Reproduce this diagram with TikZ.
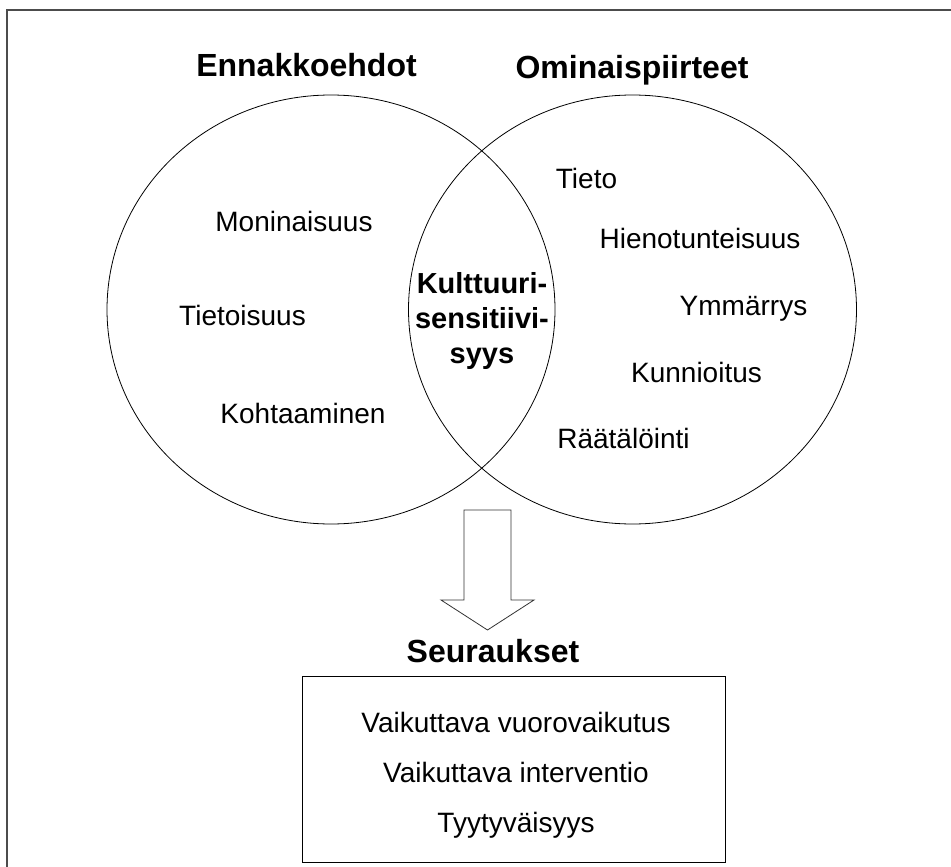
\documentclass[tikz,border=0pt]{standalone}
\usepackage{fontspec}
\setmainfont{Liberation Sans}
\usetikzlibrary{shapes.geometric}
\usetikzlibrary{calc}

\tikzset{
  heading/.style={font=\fontsize{32}{38}\selectfont\bfseries, anchor=base},
  item/.style={font=\fontsize{28}{34}\selectfont, anchor=base},
  core/.style={font=\fontsize{29}{35}\selectfont\bfseries, align=center},
  setshape/.style={draw, ellipse, line width=0.8pt, minimum width=448pt, minimum height=429pt, inner sep=0pt},
  resultbox/.style={draw, line width=0.9pt, minimum width=423pt, minimum height=186pt, inner sep=0pt},
}

\begin{document}
\begin{tikzpicture}[x=1pt,y=-1pt]

        \useasboundingbox (0,0) rectangle (951,867);

        % Frame
        \draw[line width=1.2pt, black!70] (951,10) -- (7,10) -- (7,867);

        % Venn
        \node[setshape] (ennakko) at (331,309.5) {};
        \node[setshape] (omin) at (632.5,309.5) {};

        \node[heading] (ennakkoT) at (306.5,77) {Ennakkoehdot};
        \node[heading] (ominT) at (632,78) {Ominaispiirteet};

        \node[core] (kult) at (482,320.5) {Kulttuuri-\\sensitiivi-\\syys};

        % Left items
        \node[item] (monin) at (294,231) {Moninaisuus};
        \node[item] (tietois) at (242.5,325) {Tietoisuus};
        \node[item] (kohtaa) at (303,423) {Kohtaaminen};

        % Right items
        \node[item] (tieto) at (586.5,188) {Tieto};
        \node[item] (hieno) at (700,248) {Hienotunteisuus};
        \node[item] (ymm) at (743.5,315) {Ymmärrys};
        \node[item] (kunn) at (696.5,382) {Kunnioitus};
        \node[item] (raat) at (623.5,448) {Räätälöinti};

        % Block arrow
        \coordinate (tip) at (487.5,630);
        \draw[line width=0.8pt, black!80]
          ($(tip)+(-23.5,-120)$) -- ($(tip)+(23.5,-120)$) -- ($(tip)+(23.5,-30)$)
          -- ($(tip)+(46.5,-30)$) -- (tip) -- ($(tip)+(-46.5,-30)$)
          -- ($(tip)+(-23.5,-30)$) -- cycle;

        % Results
        \node[heading] (seurT) at (493,662) {Seuraukset};
        \node[resultbox] (seur) at (513.5,769) {};
        \foreach \txt/\y [count=\i] in {Vaikuttava vuorovaikutus/732, Vaikuttava interventio/782, Tyytyväisyys/832}
        {
          \node[item] (res\i) at (516,\y) {\txt};
        }

    \end{tikzpicture}
\end{document}
